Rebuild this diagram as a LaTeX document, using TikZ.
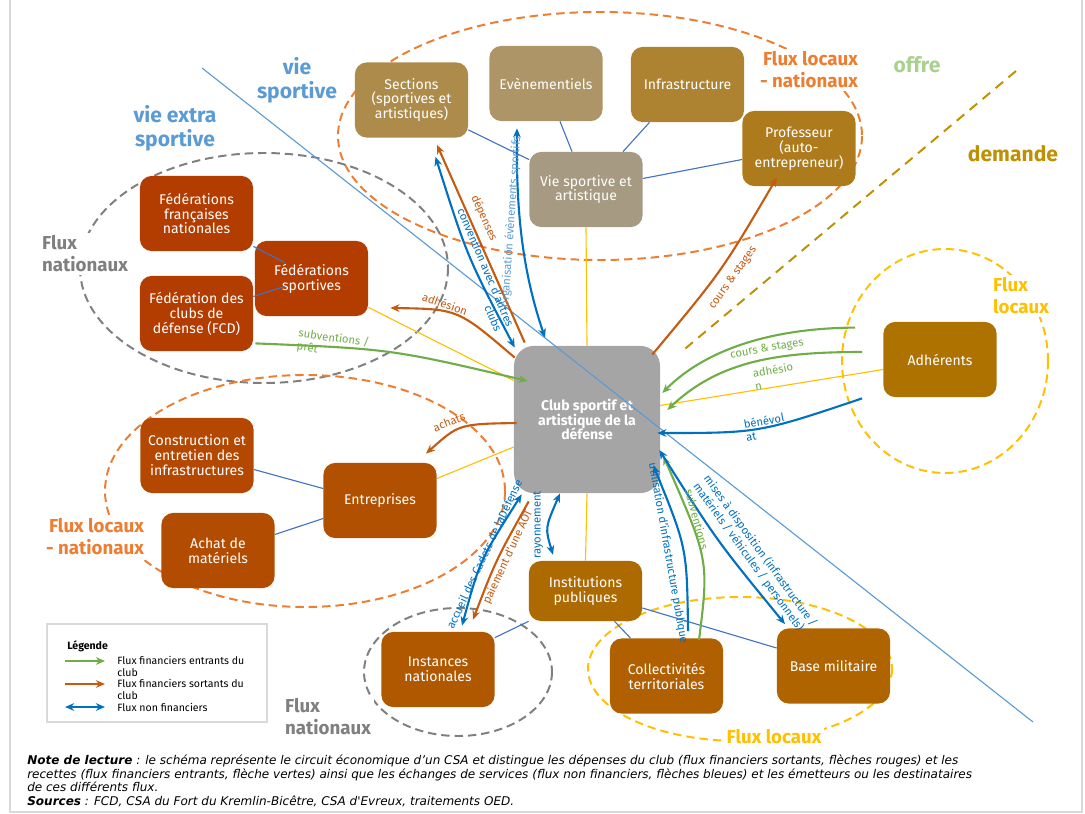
\documentclass[tikz,border=0pt]{standalone}
\usepackage{fontspec}
\setmainfont{Fira Sans}
\newfontfamily\notefont{DejaVu Sans}
\usetikzlibrary{calc,arrows.meta}

\definecolor{bleuligne}{RGB}{91,155,213}
\definecolor{bleulien}{RGB}{68,114,196}
\definecolor{bleufl}{RGB}{0,112,192}
\definecolor{vertfl}{RGB}{112,173,71}
\definecolor{orfl}{RGB}{197,90,17}
\definecolor{orzone}{RGB}{237,125,49}
\definecolor{jaune}{RGB}{255,192,0}
\definecolor{grisz}{RGB}{127,127,127}
\definecolor{ordem}{RGB}{191,144,0}
\definecolor{vertclair}{RGB}{169,209,142}
\definecolor{cadre}{RGB}{217,217,217}
\definecolor{csect}{RGB}{173,139,74}
\definecolor{ceven}{RGB}{173,149,103}
\definecolor{cinfra}{RGB}{173,131,49}
\definecolor{cvie}{RGB}{166,154,130}
\definecolor{cprof}{RGB}{173,123,27}
\definecolor{cfed}{RGB}{179,60,0}
\definecolor{cconstr}{RGB}{180,72,0}
\definecolor{centr}{RGB}{176,80,0}
\definecolor{cachat}{RGB}{178,76,0}
\definecolor{cinst}{RGB}{176,88,0}
\definecolor{cinpub}{RGB}{173,106,0}
\definecolor{ccoll}{RGB}{176,96,0}
\definecolor{cbase}{RGB}{176,100,0}
\definecolor{cadh}{RGB}{173,114,0}
\definecolor{cclub}{RGB}{165,165,165}

\tikzset{
  boite/.style={rectangle, rounded corners=0.3cm, minimum width=2.83cm, minimum height=1.88cm,
    text=white, align=center, inner sep=1pt, font=\fontsize{10}{10.6}\selectfont},
  zone/.style={line width=1.4pt, dash pattern=on 6pt off 3.5pt},
  lien/.style={bleulien, line width=0.8pt},
  lienj/.style={jaune, line width=0.8pt},
  fl/.style={line width=1.5pt},
  lab/.style={inner sep=0pt, font=\fontsize{8}{9.3}\selectfont},
  titre/.style={align=center, font=\bfseries\fontsize{15}{17}\selectfont},
  flux/.style={fill=white, inner sep=2pt, font=\bfseries\fontsize{13.3}{15.6}\selectfont},
  legt/.style={inner sep=0pt, align=left, font=\fontsize{7.5}{8.5}\selectfont}
}

\begin{document}
\begin{tikzpicture}[x=0.025cm, y=-0.025cm, >={Stealth[length=6.5pt,width=5.5pt]}]
		%%%%% START %%%%%
		\useasboundingbox (0,0) rectangle (1085,814);
		\draw[cadre, line width=1.2pt] (10,0) -- (10,812) -- (1082,812) -- (1082,0);
		
		% zones
		\draw[zone, orzone] (600,136) ellipse [x radius=262, y radius=124];
		\draw[zone, grisz] (264,268) ellipse [x radius=184, y radius=115];
		\draw[zone, orzone] (305,491) ellipse [x radius=200, y radius=116];
		\draw[zone, grisz] (458,672) ellipse [x radius=94, y radius=64];
		\draw[zone, jaune] (740,669) ellipse [x radius=152, y radius=72];
		\draw[zone, jaune] (945,361) ellipse [x radius=103, y radius=112];
		\draw[ordem, line width=1.4pt, dash pattern=on 7pt off 5pt] (1016,71) -- (680,353);
		
		% boites
		\node[boite, fill=csect] (sections) at (411.5,100) {Sections\\(sportives et\\artistiques)};
		\node[boite, fill=ceven] (even) at (546,83.5) {Evènementiels};
		\node[boite, fill=cinfra] (infra) at (687.5,84.5) {Infrastructure};
		\node[boite, fill=cvie] (vie) at (586,189.5) {Vie sportive et\\artistique};
		\node[boite, fill=cprof] (prof) at (799,148.5) {Professeur\\(auto-\\entrepreneur)};
		\node[boite, fill=cfed] (ffn) at (196.5,213.5) {Fédérations\\françaises\\nationales};
		\node[boite, fill=cfed] (fs) at (311.5,278.5) {Fédérations\\sportives};
		\node[boite, fill=cfed] (fcd) at (196.5,313.5) {Fédération des\\clubs de\\défense (FCD)};
		\node[boite, fill=cconstr] (constr) at (197,455.5) {Construction et\\entretien des\\infrastructures};
		\node[boite, fill=centr] (entr) at (380,500.5) {Entreprises};
		\node[boite, fill=cachat] (achat) at (218,550.5) {Achat de\\matériels};
		\node[boite, fill=cinst] (inst) at (438,669.5) {Instances\\nationales};
		\node[boite, fill=cinpub, minimum height=1.5cm] (inpub) at (585.5,591) {Institutions\\publiques};
		\node[boite, fill=ccoll] (coll) at (666.5,676) {Collectivités\\territoriales};
		\node[boite, fill=cbase] (base) at (833.5,666) {Base militaire};
		\node[boite, fill=cadh] (adh) at (940,359.5) {Adhérents};
		\node[boite, fill=cclub, minimum width=3.65cm, minimum height=3.68cm, rounded corners=0.5cm,
		  font=\bfseries\fontsize{10}{10.6}\selectfont] (club) at (587,419.5) {Club sportif et\\artistique de la\\défense};
		
		% liens
		\draw[lien] ($(ffn.south east)+(0,-5)$) -- ($(fs.center)+(-27,-16)$);
		\draw[lien] ($(fcd.east)+(0,-17)$) -- ($(fs.center)+(-27,8)$);
		\draw[lien] ($(sections.south east)+(0,-8)$) -- ($(vie.north west)+(0,8)$);
		\draw[lien] ($(even.south)+(14,0)$) -- ($(vie.north)+(-14,0)$);
		\draw[lien] ($(infra.south)+(-38,0)$) -- ($(vie.north)+(37,0)$);
		\draw[lien] ($(vie.east)+(0,-11)$) -- ($(prof.west)+(0,11)$);
		\draw[lien] ($(constr.east)+(0,14)$) -- ($(entr.west)+(0,-12)$);
		\draw[lien] ($(achat.east)+(0,-16)$) -- ($(entr.west)+(0,18)$);
		\draw[lien] ($(inst.north east)+(0,6)$) -- (inpub.south west);
		\draw[lien] ($(inpub.south)+(29,0)$) -- ($(coll.north)+(-36,0)$);
		\draw[lien] ($(inpub.east)+(0,17)$) -- ($(base.west)+(0,-18)$);
		\draw[lienj] (vie.south) -- (club.north);
		\draw[lienj] (club.south) -- (inpub.north);
		\draw[lienj] ($(fs.south east)+(0,-9)$) -- ($(club.west)+(0,-39)$);
		\draw[lienj] ($(entr.east)+(0,-22)$) -- ($(club.west)+(0,27.5)$);
		\draw[lienj] ($(adh.west)+(0,10)$) -- ($(club.east)+(0,-14)$);
		
		\draw[bleuligne, line width=0.8pt] (202,68) -- (1033,722);
		
		% flux
		\draw[fl, bleufl, <->] ($(sections.south)+(24,19)$) .. controls (467,256) .. ($(club.north west)+(1,2)$);
		\draw[fl, orfl, ->] ($(club.north west)+(11,-3)$) -- ($(sections.south)+(25.5,7)$);
		\draw[fl, bleufl, <->] ($(even.south)+(-29,7)$) .. controls (516,210) and (522,270) .. ($(club.north)+(-42,-8)$);
		\draw[fl, orfl, ->] ($(club.north west)+(1,12)$) .. controls (458,309) .. ($(fs.east)+(22,29.5)$);
		\draw[fl, vertfl, ->] ($(fcd.south east)+(2,-8)$) .. controls (391,349) .. ($(club.west)+(14,-38.5)$);
		\draw[fl, orfl, ->] ($(club.west)+(3,3.5)$) .. controls (459,424) .. ($(entr.north)+(46,-9)$);
		\draw[fl, bleufl, <->] ($(club.south west)+(8,1)$) .. controls (480,560) .. ($(inst.north)+(24,-6)$);
		\draw[fl, orfl, ->] ($(club.south west)+(15,8)$) .. controls (496,560) .. ($(inst.north)+(35,-12)$);
		\draw[fl, bleufl, <->] ($(club.south)+(-27,0)$) .. controls (545,528) .. ($(inpub.north)+(-32.5,-6)$);
		\draw[fl, bleufl, ->] ($(coll.north)+(21.5,-7)$) .. controls (687,548) .. ($(club.south east)+(-7,-28)$);
		\draw[fl, vertfl, ->] ($(coll.north)+(32.5,2)$) .. controls (709,560) .. ($(club.east)+(3,36.5)$);
		\draw[fl, bleufl, <->] ($(club.east)+(-1,30.5)$) .. controls (717,541) .. ($(base.north)+(-48.5,-4)$);
		\draw[fl, bleufl, ->] ($(adh.south west)+(-21,1)$) .. controls (759,433) .. ($(club.east)+(-3,13.5)$);
		\draw[fl, vertfl, ->] ($(adh.north west)+(-28,6)$) .. controls (775,328) and (707,348) .. ($(club.east)+(2,-26.5)$);
		\draw[fl, vertfl, ->] ($(adh.west)+(-21,-7.5)$) .. controls (780,352) and (720,360) .. ($(club.east)+(7,-9.5)$);
		\draw[fl, orfl, ->] ($(club.north east)+(-8,9)$) .. controls (722,271) .. ($(prof.south)+(-22,-9)$);
		
		% textes des flux
		\node[lab, orfl, rotate=-66] (ldep) at (484,218) {dépenses};
		\node[lab, bleufl, rotate=-67, align=right] (lconv) at (480,270) {convention avec d'autres\\clubs};
		\node[lab, bleuligne, rotate=86] (lorg) at (511,222) {organisation évènements sportifs};
		\node[lab, orfl, rotate=-20] (ladh) at (445,304) {adhésion};
		\node[lab, vertfl, rotate=-8, align=left] (lsub) at (333,345) {subventions /\\prêt};
		\node[lab, orfl, rotate=22] (lach) at (449,422) {achats};
		\node[lab, bleufl, rotate=65] (lacc) at (484,554) {accueil des Cadets de la\\Défense};
		\node[lab, orfl, rotate=65] (laot) at (508,557) {paiement d'une AOT};
		\node[lab, bleufl, rotate=90] (lray) at (538,525) {rayonnement};
		\node[lab, bleufl, rotate=-80] (lutil) at (668,553) {utilisation d'infrastructure publique};
		\node[lab, vertfl, rotate=-75] (lsub2) at (697,519) {subventions};
		\node[lab, bleufl, rotate=-54, align=left] (lmis) at (755,555) {mises à disposition (infrastructure /\\matériels / véhicules / personnels)};
		\node[lab, bleufl, rotate=10, align=left] (lben) at (765,427) {bénévol\\at};
		\node[lab, vertfl, rotate=10] (lcs) at (767,349) {cours \& stages};
		\node[lab, vertfl, rotate=10, align=left] (ladh2) at (774,376) {adhésio\\n};
		\node[lab, orfl, rotate=55] (lcs2) at (733,278) {cours \& stages};
		
		% titres
		\node[titre, bleuligne] (tvie) at (297,80) {vie\\sportive};
		\node[titre, bleuligne] (textra) at (175,128) {vie extra\\sportive};
		\node[titre, vertclair] (toffre) at (917,65) {offre};
		\node[titre, ordem] (tdem) at (1013,154) {demande};
		\node[flux, text=orzone, align=right] (fln1) at (809,70) {Flux locaux\\- nationaux};
		\node[flux, text=grisz, align=left] (fn1) at (85,254) {Flux\\nationaux};
		\node[flux, text=jaune, align=left] (fl1) at (1021,296) {Flux\\locaux};
		\node[flux, text=orzone, align=right] (fln2) at (95,537) {Flux locaux\\- nationaux};
		\node[flux, text=grisz, align=left] (fn2) at (328,717) {Flux\\nationaux};
		\node[flux, text=jaune] (fl2) at (774,737) {Flux locaux};
		
		% legende
		\node[draw=cadre, line width=0.8pt, minimum width=5.5cm, minimum height=2.45cm] (leg) at (157,673) {};
		\node[legt, anchor=west, font=\bfseries\fontsize{7.5}{8.5}\selectfont] (legtitre) at (67,646) {Légende};
		\node[legt, anchor=north west] (leg1) at (117,656) {Flux financiers entrants du\\club};
		\node[legt, anchor=north west] (leg2) at (117,679) {Flux financiers sortants du\\club};
		\node[legt, anchor=north west] (leg3) at (117,703) {Flux non financiers};
		\draw[fl, vertfl, ->] ($(leg1.north west)+(-52,5)$) -- ($(leg1.north west)+(-12,5)$);
		\draw[fl, orfl, ->] ($(leg2.north west)+(-52,5)$) -- ($(leg2.north west)+(-12,5)$);
		\draw[fl, bleufl, <->] ($(leg3.north west)+(-52,4)$) -- ($(leg3.north west)+(-12,4)$);
		
		% note
		\node[anchor=north west, align=left, inner sep=0pt, font=\notefont\itshape\fontsize{8.55}{9.6}\selectfont] (note) at (27,755)
		  {\textbf{Note de lecture} : le schéma représente le circuit économique d’un CSA et distingue les dépenses du club (flux financiers sortants, flèches rouges) et les\\
		   recettes (flux financiers entrants, flèche vertes) ainsi que les échanges de services (flux non financiers, flèches bleues) et les émetteurs ou les destinataires\\
		   de ces différents flux.\\
		   \textbf{Sources} : FCD, CSA du Fort du Kremlin-Bicêtre, CSA d'Evreux, traitements OED.};
		%%%%% END %%%%%
	\end{tikzpicture}
\end{document}
